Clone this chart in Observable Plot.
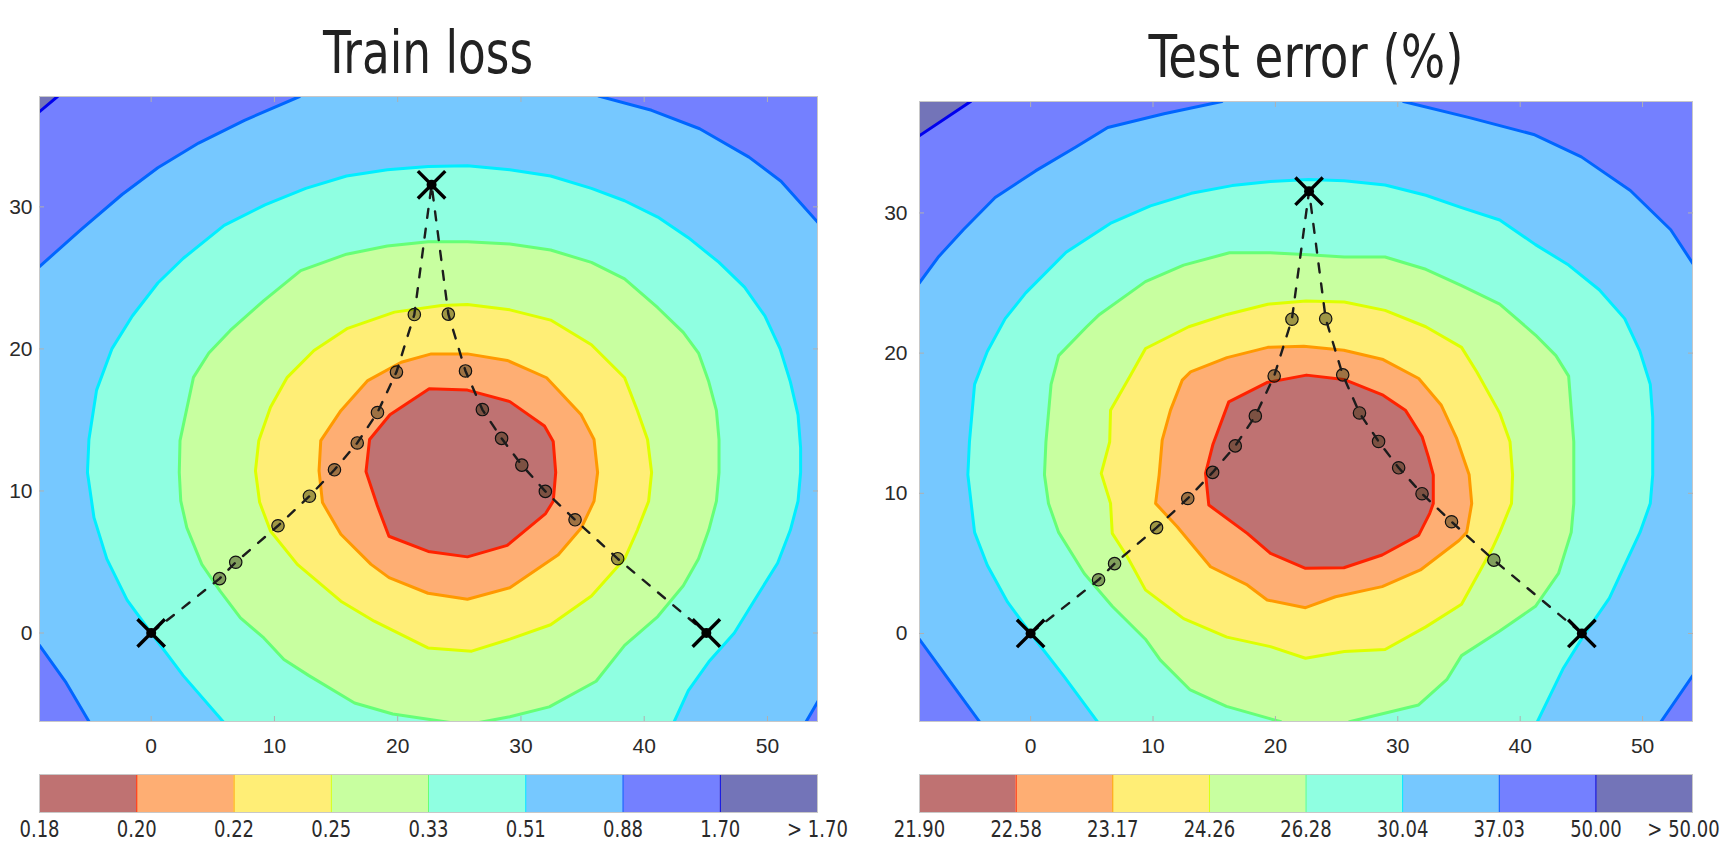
<!DOCTYPE html>
<html>
<head>
<meta charset="utf-8">
<script src="https://cdn.jsdelivr.net/npm/d3@7"></script>
<script src="https://cdn.jsdelivr.net/npm/@observablehq/plot@0.6"></script>
<style>
  html, body { margin: 0; padding: 0; background: #fff; }
  body { width: 1732px; height: 850px; position: relative; overflow: hidden; }
  .box { position: absolute; }
  .title { font-family: "Liberation Sans Narrow", "DejaVu Sans Condensed", "Liberation Sans", sans-serif; font-size: 58px; fill: #222; }
</style>
</head>
<body>
<svg class="box" style="left:0;top:0" width="1732" height="120">
  <text class="title" id="t1" x="428" y="73" text-anchor="middle" textLength="210" lengthAdjust="spacingAndGlyphs"></text>
  <text class="title" id="t2" x="1306" y="77" text-anchor="middle" textLength="315" lengthAdjust="spacingAndGlyphs"></text>
</svg>
<div class="box" id="mainL" style="left:0;top:86px;width:830px"></div>
<div class="box" id="mainR" style="left:866px;top:91px;width:866px"></div>
<div class="box" id="barL" style="left:0;top:764px;width:830px"></div>
<div class="box" id="barR" style="left:866px;top:764px;width:866px"></div>
<script>
// ---------------- data ----------------
const TITLES = ["Train loss", "Test error (%)"];
const X_TICKS = [0, 10, 20, 30, 40, 50];
const Y_TICKS = [0, 10, 20, 30];
const TRAIN_LABELS = ["0.18", "0.20", "0.22", "0.25", "0.33", "0.51", "0.88", "1.70", "> 1.70"];
const TEST_LABELS = ["21.90", "22.58", "23.17", "24.26", "26.28", "30.04", "37.03", "50.00", "> 50.00"];

// band fills (low -> high) and contour line colours (levels 2..8)
const BAND_COLORS = ["#BF7272", "#FEAE73", "#FFEE76", "#C8FFA0", "#8FFFE1", "#76C8FF", "#7480FF", "#7374B8"];
const LINE_COLORS = ["#FF2200", "#FF9900", "#DDFF00", "#66FF77", "#00EEFF", "#0066FF", "#0000EE"];

// models (X markers) and curve points (circles), plane coordinates
const MODELS = [[0, 0], [22.75, 31.55], [45.04, 0]];
const ARM_LEFT = [[5.55, 3.83], [6.86, 4.98], [10.29, 7.55], [12.84, 9.63], [14.87, 11.49], [16.72, 13.38], [18.36, 15.52], [19.90, 18.37], [21.35, 22.42]];
const ARM_RIGHT = [[24.11, 22.45], [25.50, 18.45], [26.87, 15.73], [28.43, 13.70], [30.07, 11.82], [31.98, 9.97], [34.39, 7.97], [37.85, 5.23]];

// Train loss contours: region below each level (0.20, 0.22, 0.25, 0.33, 0.51, 0.88, 1.70)
const train_020 = [[22.56,17.19],[25.66,17.10],[29.10,16.29],[31.91,14.58],[32.62,13.48],[32.82,11.30],[32.62,9.28],[32.0,8.41],[28.89,6.17],[25.66,5.36],[22.48,5.74],[19.29,6.81],[18.34,8.99],[17.43,11.36],[17.72,13.62],[19.37,15.36]];
const train_022 = [[22.73,19.65],[25.66,19.65],[28.89,19.19],[32.08,17.97],[34.89,15.36],[35.93,13.62],[36.22,11.30],[35.93,9.28],[34.89,7.39],[33.03,5.51],[29.10,3.19],[25.66,2.38],[22.46,2.8],[19.3,3.9],[17.84,4.83],[15.39,6.95],[13.9,9.18],[13.62,11.42],[13.76,13.54],[15.39,15.65],[17.57,17.77],[20.29,19.06]];
const train_025 = [[23.55,23.06],[25.66,23.13],[29.10,22.75],[32.41,22.03],[35.72,20.29],[38.41,17.97],[39.45,15.65],[40.27,13.62],[40.60,11.30],[40.36,9.28],[39.45,7.25],[38.41,5.22],[35.72,2.61],[32.41,0.58],[29.10,-0.43],[26.0,-1.28],[22.46,-1.05],[18.1,0.83],[15.39,2.24],[11.86,4.83],[9.68,7.18],[8.8,9.2],[8.46,11.42],[8.73,13.54],[9.68,15.89],[11.04,18.0],[13.21,19.89],[15.94,21.45],[19.74,22.59]];
const train_033 = [[22.48,27.54],[25.66,27.54],[29.10,27.39],[32.41,26.96],[35.72,26.09],[38.41,24.93],[41.10,22.90],[43.17,21.16],[44.41,19.71],[45.24,17.68],[45.86,15.65],[46.07,13.62],[46.07,11.30],[45.86,9.28],[45.24,7.25],[44.41,5.22],[43.17,3.33],[41.10,1.16],[38.41,-0.87],[36.1,-3.4],[32.3,-5.2],[29.1,-5.9],[26.6,-6.3],[25.5,-6.7],[24.25,-6.3],[19.6,-5.7],[16.5,-4.93],[12.8,-3.0],[10.77,-1.87],[9.14,-0.35],[7.24,1.07],[5.6,2.95],[4.11,4.83],[2.89,7.42],[2.4,9.3],[2.28,11.3],[2.34,13.54],[3.43,18.0],[4.68,19.71],[6.42,21.3],[9.14,23.4],[12.13,25.51],[15.85,26.67],[19.16,27.25]];
const train_051 = [[22.48,32.84],[25.66,32.90],[29.10,32.61],[32.41,32.17],[35.72,31.30],[38.41,30.43],[41.10,29.28],[43.58,27.83],[46.07,26.09],[48.14,24.35],[49.79,22.32],[51.03,20.0],[51.86,17.68],[52.48,15.36],[52.69,13.04],[52.69,11.30],[52.48,9.28],[51.86,7.25],[50.83,4.93],[48.96,2.32],[47.31,0],[45.24,-2.03],[43.58,-4.06],[42.4,-6.3],[41.5,-8.5],[6.5,-8.5],[5.9,-6.3],[2.6,-3.0],[0,0],[-1.95,2.32],[-3.60,5.22],[-4.64,8.12],[-5.17,11.30],[-5.05,13.62],[-4.43,17.10],[-3.19,20.0],[-1.53,22.32],[0.54,24.64],[2.61,26.38],[5.92,28.70],[9.23,30.14],[12.54,31.30],[15.85,32.17],[19.16,32.61]];
const train_088 = [[12.04,37.77],[7.57,36.09],[3.85,34.49],[0.54,32.75],[-2.36,30.87],[-5.67,28.41],[-9.06,25.8],[-12,25.8],[-12,-0.87],[-9.06,-0.87],[-6.9,-3.5],[-5.0,-6.3],[-5.0,-9],[53.1,-9],[53.1,-6.3],[54.1,-4.8],[57,-4.8],[57,28.9],[54.1,28.9],[51.1,31.8],[48.5,33.5],[44.5,35.5],[40.6,36.8],[36.3,37.8],[36.3,41],[12.04,41]];
const train_170 = [[-7.6,37.77],[-9.06,36.7],[-12,36.7],[-12,-10],[58,-10],[58,41],[-7.6,41]];

// Test error contours: region below each level (22.58, 23.17, 24.26, 26.28, 30.04, 37.03, 50.00)
const test_2258 = [[22.54,18.43],[25.59,18.12],[28.80,17.0],[30.62,15.93],[31.99,14.03],[32.5,12.6],[32.9,11.32],[32.9,9.27],[32.61,8.57],[31.71,7.02],[28.72,5.60],[25.59,4.69],[22.46,4.65],[19.60,5.72],[17.70,7.14],[14.56,9.16],[14.29,11.42],[14.9,13.5],[16.19,16.52],[19.3,17.9]];
const test_2317 = [[22.32,20.49],[25.59,20.21],[28.80,19.54],[31.71,18.19],[33.54,16.3],[34.79,13.96],[35.83,11.32],[36.04,9.27],[35.63,7.21],[35.0,6.63],[31.85,4.53],[28.72,3.34],[24.91,2.62],[22.46,1.84],[19.33,2.39],[17.70,3.46],[14.70,4.76],[11.98,7.61],[10.21,9.28],[10.5,11.3],[10.75,13.79],[11.43,15.93],[12.39,18.07],[13.07,18.66],[16.04,19.68],[19.38,20.41]];
const test_2426 = [[22.5,23.72],[25.63,23.64],[28.96,23.05],[32.29,21.88],[35.21,20.41],[36.46,18.65],[38.33,15.72],[39.17,13.67],[39.38,11.32],[39.29,9.27],[38.33,7.21],[37.71,6.04],[35.21,2.08],[32.29,0.47],[28.96,-1.14],[25.63,-1.29],[22.46,-1.77],[19.6,-0.94],[16.04,-0.26],[12.5,1.06],[9.38,3.11],[7.90,5.47],[6.67,7.14],[6.53,9.28],[5.77,11.42],[6.46,13.67],[6.53,15.93],[8.13,18.36],[9.39,20.33],[12.92,21.88],[16.04,22.76],[19.38,23.49]];
const test_2628 = [[22.71,27.01],[25.63,26.86],[28.96,26.86],[32.29,25.98],[35.21,24.81],[38.33,23.49],[41.25,21.29],[42.92,19.82],[43.96,18.36],[44.17,16.01],[44.38,13.67],[44.38,11.32],[44.38,9.27],[44.17,7.21],[43.13,4.28],[41.25,1.94],[38.33,0.18],[35.21,-1.58],[34.0,-3.3],[31.7,-5.1],[26.05,-6.3],[25.0,-7.0],[21.0,-7.0],[20.45,-6.3],[16.0,-5.2],[13.0,-4.0],[10.6,-1.9],[9.38,-0.41],[6.67,1.94],[4.38,4.28],[2.29,7.21],[1.46,9.27],[1.13,11.32],[1.25,13.67],[1.67,17.77],[2.29,19.82],[4.58,21.88],[5.63,22.76],[9.38,25.10],[12.5,26.28],[16.25,27.16],[19.58,27.16]];
const test_3004 = [[22.71,32.38],[25.63,32.29],[28.96,31.99],[32.29,31.26],[35.21,30.38],[38.33,29.50],[41.25,27.74],[43.96,26.28],[46.46,24.52],[48.54,22.46],[49.79,20.12],[50.63,17.77],[50.83,15.43],[50.83,11.32],[50.63,9.27],[49.79,7.21],[48.54,4.87],[47.29,2.52],[45.21,-0.12],[43.54,-2.46],[41.4,-6.3],[41.0,-8.5],[5.5,-8.5],[5.47,-6.3],[2.71,-3.05],[0,0],[-1.88,2.23],[-3.54,4.87],[-4.58,7.21],[-5.13,11.32],[-5.0,13.67],[-4.58,17.77],[-3.54,20.12],[-2.08,22.46],[-0.4,24.3],[2.9,27.2],[6.6,29.3],[9.79,30.5],[13.13,31.4],[16.46,31.95],[19.58,32.25]];
const test_3703 = [[15.63,37.95],[10.9,37.08],[6.3,36.1],[3.7,34.7],[0.4,33.0],[-2.9,31.1],[-5.5,28.8],[-7.5,26.9],[-9.1,25.0],[-12,25.0],[-12,-0.4],[-9.1,-0.4],[-6.9,-3.05],[-4.17,-6.3],[-4.17,-9],[51.5,-9],[51.5,-6.3],[54.1,-3.0],[57,-3.0],[57,26.4],[54.1,26.4],[52.3,28.8],[49.0,31.6],[45.0,34.0],[41.1,35.6],[35.85,36.8],[30.46,37.95],[30.46,41],[15.63,41]];
const test_5000 = [[-4.9,37.95],[-9.1,35.5],[-12,35.5],[-12,-10],[58,-10],[58,41],[-4.9,41]];

const TRAIN_POLYS = [train_020, train_022, train_025, train_033, train_051, train_088, train_170];
const TEST_POLYS = [test_2258, test_2317, test_2426, test_2628, test_3004, test_3703, test_5000];

// ---------------- drawing ----------------
const TICK_FONT = "'Liberation Sans', 'DejaVu Sans', sans-serif";
const BAR_FONT = "'Liberation Sans Narrow', 'DejaVu Sans Condensed', 'Liberation Sans', sans-serif";
document.getElementById("t1").textContent = TITLES[0];
document.getElementById("t2").textContent = TITLES[1];

const path = [MODELS[0], ...ARM_LEFT, MODELS[1], ...ARM_RIGHT, MODELS[2]];
const points = [...ARM_LEFT, ...ARM_RIGHT];

function mainPlot(polys, o) {
  const marks = [Plot.frame({fill: BAND_COLORS[7]})];
  for (let k = polys.length - 1; k >= 0; k--) {
    marks.push(Plot.line(polys[k], {
      x: d => d[0], y: d => d[1], curve: "linear-closed", clip: true,
      fill: BAND_COLORS[k], stroke: LINE_COLORS[k], strokeWidth: 3, strokeLinejoin: "round"
    }));
  }
  marks.push(
    Plot.dot(points, {x: d => d[0], y: d => d[1], r: 6.2, fill: "#2b2b08", fillOpacity: 0.45, stroke: "#111", strokeWidth: 1.2}),
    Plot.line(path, {x: d => d[0], y: d => d[1], stroke: "#1c1c1c", strokeWidth: 2.4, strokeDasharray: "9,11"}),
    Plot.dot(MODELS, {x: d => d[0], y: d => d[1], symbol: "times", r: 12.5, stroke: "#000", strokeWidth: 3.4}),
    Plot.dot(MODELS, {x: d => d[0], y: d => d[1], r: 5, fill: "#000"}),
    Plot.frame({stroke: "#c8c8c8"}),
    Plot.axisX(X_TICKS, {anchor: "bottom", tickSize: -5, fill: "none", stroke: "#b0b0b0"}),
    Plot.axisX(X_TICKS, {anchor: "top", tickSize: -5, fill: "none", stroke: "#b0b0b0"}),
    Plot.axisY(Y_TICKS, {anchor: "left", tickSize: -5, fill: "none", stroke: "#b0b0b0"}),
    Plot.axisY(Y_TICKS, {anchor: "right", tickSize: -5, fill: "none", stroke: "#b0b0b0"}),
    Plot.axisX(X_TICKS, {anchor: "bottom", tickSize: 0, tickPadding: 17, fill: "#2a2a2a", fontSize: 21, fontFamily: TICK_FONT}),
    Plot.axisY(Y_TICKS, {anchor: "left", tickSize: 0, tickPadding: o.yPad, fill: "#2a2a2a", fontSize: 21, fontFamily: TICK_FONT})
  );
  return Plot.plot({
    width: o.width, height: o.height,
    marginLeft: o.ml, marginRight: o.mr, marginTop: 10, marginBottom: 40,
    x: {domain: o.xd, label: null, axis: null},
    y: {domain: o.yd, label: null, axis: null},
    style: {overflow: "visible", background: "transparent", fontFamily: TICK_FONT},
    marks
  });
}

function colorBar(labels, o) {
  const cells = d3.range(BAND_COLORS.length);
  const n = labels.length - 1;
  const textOpts = {text: d => d, frameAnchor: "bottom", dy: 17, lineAnchor: "middle",
    fontSize: 23, fontFamily: BAR_FONT, fill: "#2a2a2a"};
  return Plot.plot({
    width: o.width, height: 86,
    marginLeft: o.ml, marginRight: o.mr, marginTop: 10, marginBottom: 38,
    x: {domain: [0, cells.length], axis: null},
    y: {domain: [0, 1], axis: null},
    color: {type: "identity"},
    style: {overflow: "visible", background: "transparent"},
    marks: [
      Plot.rect(cells, {x1: i => i, x2: i => i + 1, y1: 0, y2: 1, fill: i => BAND_COLORS[i]}),
      Plot.ruleX(d3.range(1, cells.length), {stroke: i => LINE_COLORS[i - 1], strokeWidth: 1}),
      Plot.frame({stroke: "#c8c8c8"}),
      Plot.text(labels.slice(0, n), {x: (d, i) => i, ...textOpts}),
      Plot.text(labels.slice(n), {x: () => n, ...textOpts, dx: o.lastDx})
    ]
  });
}

// narrow the colour-bar labels (condensed look of the original)
function narrow(svg, f) {
  svg.querySelectorAll("text").forEach(t => {
    const w = t.getComputedTextLength();
    t.setAttribute("textLength", (w * f).toFixed(1));
    t.setAttribute("lengthAdjust", "spacingAndGlyphs");
  });
}

document.getElementById("mainL").append(mainPlot(TRAIN_POLYS, {width: 830, height: 675, ml: 39, mr: 13, yPad: 7, xd: [-9.06, 54.06], yd: [-6.23, 37.77]}));
document.getElementById("mainR").append(mainPlot(TEST_POLYS, {width: 866, height: 670, ml: 53, mr: 40, yPad: 12, xd: [-9.08, 54.08], yd: [-6.28, 37.95]}));
const bl = colorBar(TRAIN_LABELS, {width: 830, ml: 39, mr: 13, lastDx: 0});
const br = colorBar(TEST_LABELS, {width: 866, ml: 53, mr: 40, lastDx: -9});
document.getElementById("barL").append(bl);
document.getElementById("barR").append(br);
narrow(bl, 0.87);
narrow(br, 0.87);
</script>
</body>
</html>
